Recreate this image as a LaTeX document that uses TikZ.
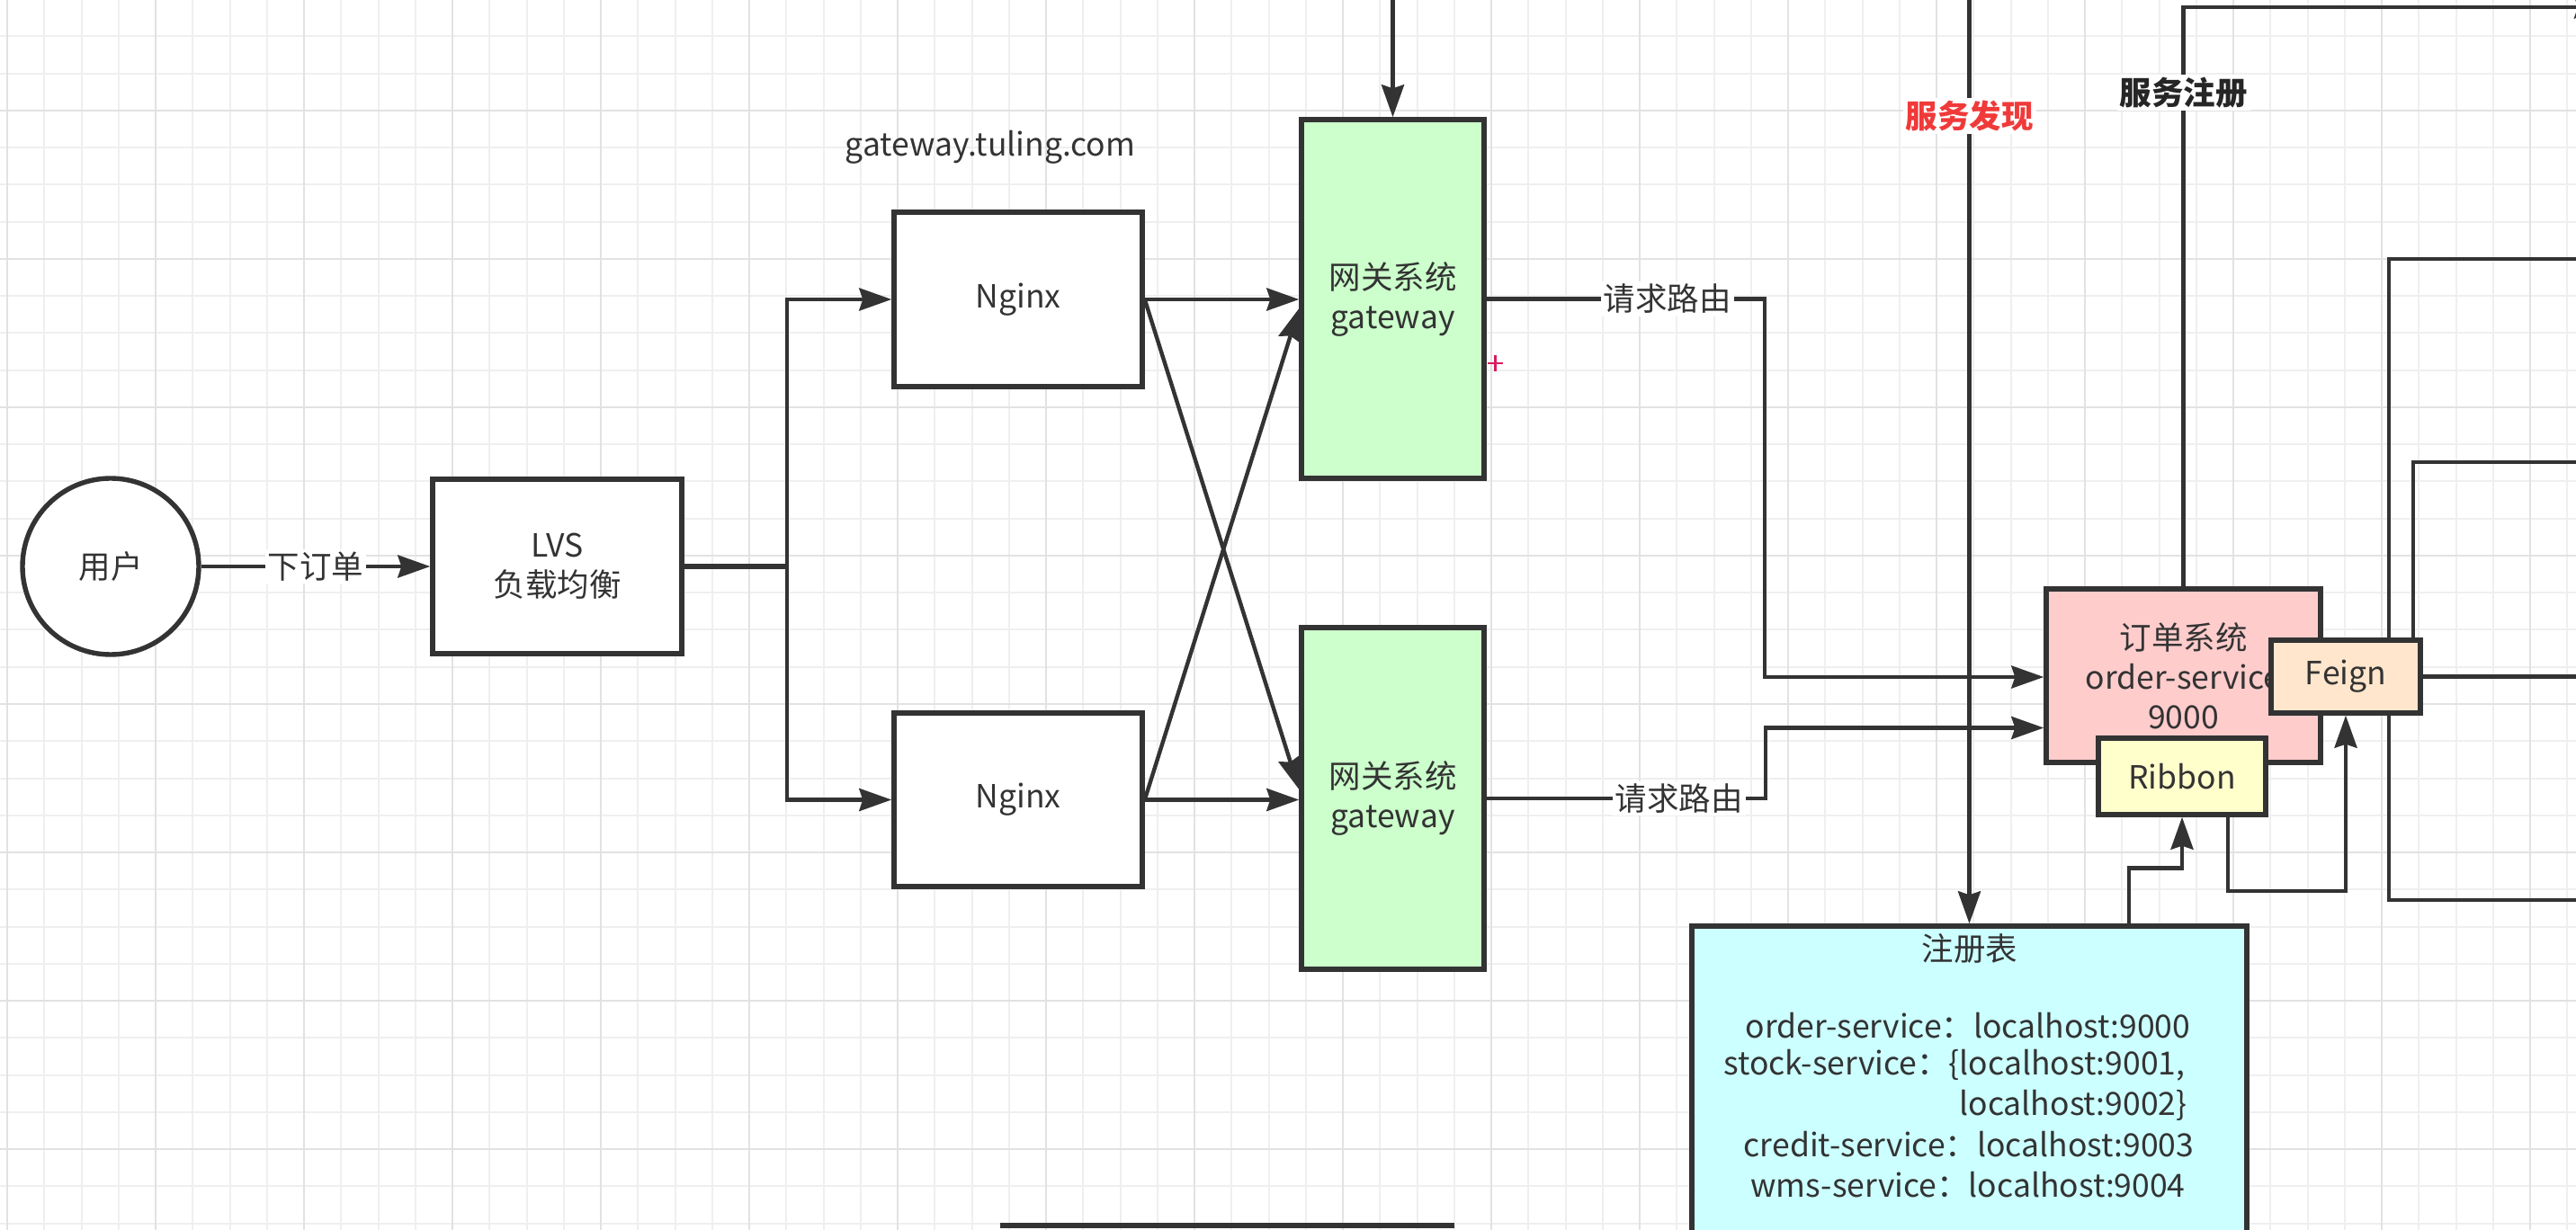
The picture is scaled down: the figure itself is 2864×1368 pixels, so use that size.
\documentclass[tikz,border=0pt]{standalone}
\usepackage{fontspec}
\setmainfont{Noto Sans CJK SC}
\usetikzlibrary{arrows.meta}
\definecolor{ink}{HTML}{333333}
\definecolor{gridminor}{HTML}{EFEFEF}
\definecolor{gridmajor}{HTML}{E2E2E2}
\definecolor{gwfill}{HTML}{CCFFCC}
\definecolor{ordfill}{HTML}{FFCCCC}
\definecolor{feignfill}{HTML}{FFE6CC}
\definecolor{ribfill}{HTML}{FFFFCC}
\definecolor{regfill}{HTML}{CCFFFF}
\definecolor{discred}{HTML}{F03A3A}
\definecolor{plusred}{HTML}{D81B60}
\newcommand\dfont{\fontsize{17.75pt}{22pt}\selectfont}
\begin{document}
\begin{tikzpicture}[x=0.5pt,y=-0.5pt,
  boxnode/.style={draw=ink, line width=2.7pt, fill=white, inner sep=0pt,
    align=center, text=ink, font=\dfont},
  conn/.style={draw=ink, line width=2.2pt},
  arr/.style={-{Stealth[length=18pt,width=12.5pt,inset=2pt]}},
  lbl/.style={fill=white, inner sep=1.5pt, text=ink, font=\dfont},
  txt/.style={inner sep=0pt, text=ink, font=\dfont},
  minorg/.style={draw=gridminor, line width=1pt},
  majorg/.style={draw=gridmajor, line width=1pt}]
\useasboundingbox (0,0) rectangle (2864,1368);
\clip (0,0) rectangle (2864,1368);
\fill[white] (0,0) rectangle (2864,1368);
% grid
\foreach \i in {0,...,69} \draw[minorg] ({8+41.25*\i},0) -- ({8+41.25*\i},1368);
\foreach \j in {0,...,33} \draw[minorg] (0,{40.5+41.25*\j}) -- (2864,{40.5+41.25*\j});
\foreach \i in {0,...,17} \draw[majorg] ({8+165*\i},0) -- ({8+165*\i},1368);
\foreach \j in {0,...,9} \draw[majorg] (0,{-42+165*\j}) -- (2864,{-42+165*\j});

% nodes
\node[boxnode, circle, minimum size=98pt] (user) at (123,630) {用户};
\node[boxnode, minimum width=138.5pt, minimum height=97pt] (lvs) at (619.5,630) {LVS\\负载均衡};
\node[boxnode, minimum width=138pt, minimum height=97pt] (n1) at (1132,333) {Nginx};
\node[boxnode, minimum width=138pt, minimum height=96.5pt] (n2) at (1132,889.5) {Nginx};
\node[txt] (dom) at (1101,164) {gateway.tuling.com};
\node[boxnode, fill=gwfill, minimum width=101.5pt, minimum height=199.5pt] (g1) at (1548.5,332.5) {网关系统\\gateway};
\node[boxnode, fill=gwfill, minimum width=101.5pt, minimum height=190pt] (g2) at (1548.5,888) {网关系统\\gateway};
\node[boxnode, fill=ordfill, minimum width=152.5pt, minimum height=96.5pt] (o) at (2427.5,751.5) {订单系统\\order-service\\9000};
\node[boxnode, fill=regfill, minimum width=308.5pt, minimum height=195pt] (reg) at (2189.5,1225) {};
\node[txt] (r0) at (2190,1055) {注册表};
\node[txt] (r1) at (2188,1141) {order-service：localhost:9000};
\node[txt] (r2) at (2173,1185) {stock-service：\{localhost:9001,};
\node[txt] (r3) at (2305,1229) {localhost:9002\}};
\node[txt] (r4) at (2189,1273) {credit-service：localhost:9003};
\node[txt] (r5) at (2188,1318) {wms-service：localhost:9004};

% lines on the right, passing behind Feign
\coordinate (pa1) at (2900,288);
\coordinate (pa2) at (2900,1001);
\draw[conn] (pa1) -- (2656,288) -- (2656,1001) -- (pa2);

\node[boxnode, fill=ribfill, minimum width=93pt, minimum height=42.5pt] (rb) at (2426,863.5) {Ribbon};
\node[boxnode, fill=feignfill, minimum width=83pt, minimum height=40.5pt] (fg) at (2608,752.5) {Feign};

% connectors
\draw[conn,arr] (user.east) -- node[lbl]{下订单} (lvs.west);
\coordinate (sp) at (875,630);
\draw[conn, line width=3pt] (lvs.east) -- (sp);
\draw[conn,arr] (sp) |- (n1.west);
\draw[conn,arr] (sp) |- (n2.west);
\draw[conn,arr] (n1.east) -- (n1.east -| g1.west);
\draw[conn,arr] (n1.east) -- ([yshift=5pt]g2.west);
\draw[conn,arr] (n2.east) -- ([yshift=-5.25pt]g1.west);
\draw[conn,arr] (n2.east) -- (n2.east -| g2.west);
\coordinate (topin) at (1548.5,-20);
\draw[conn,arr] (topin) -- (g1.north);
\draw[conn,arr] (g1.east) -- node[lbl,pos=0.65]{请求路由} (1962,332.5) |- ([yshift=-0.75pt]o.west);
\draw[conn,arr] (g2.east) -- node[lbl,pos=0.69]{请求路由} (1963,888) |- ([yshift=-29pt]o.west);
\coordinate (sdtop) at (2189.5,-20);
\draw[conn,arr] (sdtop) -- node[lbl,pos=0.142,text=discred,font=\dfont\bfseries]{服务发现} (reg.north);
\coordinate (sreg) at (2898,8);
\draw[conn,arr] (o.north) -- node[lbl,pos=0.853,text=black!85,font=\dfont\bfseries]{服务注册} (o.north |- sreg) -- (sreg);
\draw[conn,arr] ([xshift=88.75pt]reg.north) -- ++(0,-62) -| (rb.south);
\draw[conn,arr] ([xshift=25.5pt]rb.south) -- ++(0,82) -| (fg.south);
\coordinate (fgout) at (2900,752.5);
\draw[conn] (fg.east) -- (fgout);
\coordinate (pb) at (2900,514);
\draw[conn] (pb) -| ([xshift=37.5pt]fg.north);

% fragment of a box at the bottom edge
\draw[draw=ink, line width=2.6pt] (1112,1363) -- (1617,1363);
% small red cursor mark
\draw[draw=plusred, line width=1.4pt] (1654,404) -- (1671,404) (1662.5,395) -- (1662.5,413);
\end{tikzpicture}
\end{document}
